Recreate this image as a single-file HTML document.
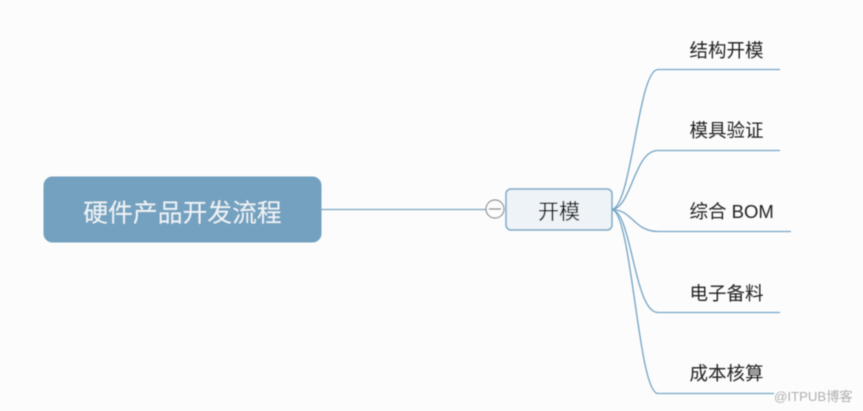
<!DOCTYPE html>
<html><head><meta charset="utf-8">
<style>
html,body{margin:0;padding:0;background:#fcfcfc;}
body{width:863px;height:411px;overflow:hidden;position:relative;}
svg{position:absolute;left:0;top:0;}
text{font-family:"Liberation Sans","Noto Sans CJK SC",sans-serif;}
</style></head>
<body>
<svg width="863" height="411" viewBox="0 0 863 411" xmlns="http://www.w3.org/2000/svg">
<defs><filter id="b" x="-5%" y="-5%" width="110%" height="110%"><feGaussianBlur stdDeviation="0.4"/></filter></defs>
<rect x="0" y="0" width="863" height="411" fill="#fcfcfc"/>
<g filter="url(#b)">
<line x1="321" y1="209.500" x2="486" y2="209.500" stroke="#7ba5c2" stroke-width="1.200"/>
<g fill="none" stroke="#76a5c5" stroke-width="1.350">
<path d="M612 209.500 C632 206,638 69.500,658 69.500 L780 69.500"/>
<path d="M612 209.500 C632 207,634 150.500,658 150.500 L780 150.500"/>
<path d="M612 209.500 C632 209.500,634 231.500,658 231.500 L791 231.500"/>
<path d="M612 209.500 C632 212,634 312.500,658 312.500 L780 312.500"/>
<path d="M612 209.500 C632 213,638 393.500,658 393.500 L774 393.500"/>
</g>
<rect x="43.500" y="176.500" width="278" height="66" rx="9" fill="#73a1bf"/>
<text x="182.500" y="221.500" font-size="24.800" fill="#eef3f7" text-anchor="middle">硬件产品开发流程</text>
<rect x="506" y="189" width="106" height="41" rx="5" fill="#eef3f7" stroke="#7ba8c6" stroke-width="1.500"/>
<text x="559" y="219" font-size="21" fill="#111" text-anchor="middle">开模</text>
<circle cx="495" cy="209" r="9" fill="#fcfcfc" stroke="#8e8e8e" stroke-width="1.200"/>
<line x1="489" y1="209" x2="501" y2="209" stroke="#777" stroke-width="1.200"/>
<g font-size="18.500" fill="#222">
<text x="689.500" y="57">结构开模</text>
<text x="689.500" y="137">模具验证</text>
<text x="689.500" y="218">综合 BOM</text>
<text x="689.500" y="300">电子备料</text>
<text x="689.500" y="380">成本核算</text>
</g>
<text x="774" y="401" font-size="13.200" fill="#b0b0b0">@ITPUB博客</text>
</g>
</svg>
</body></html>
